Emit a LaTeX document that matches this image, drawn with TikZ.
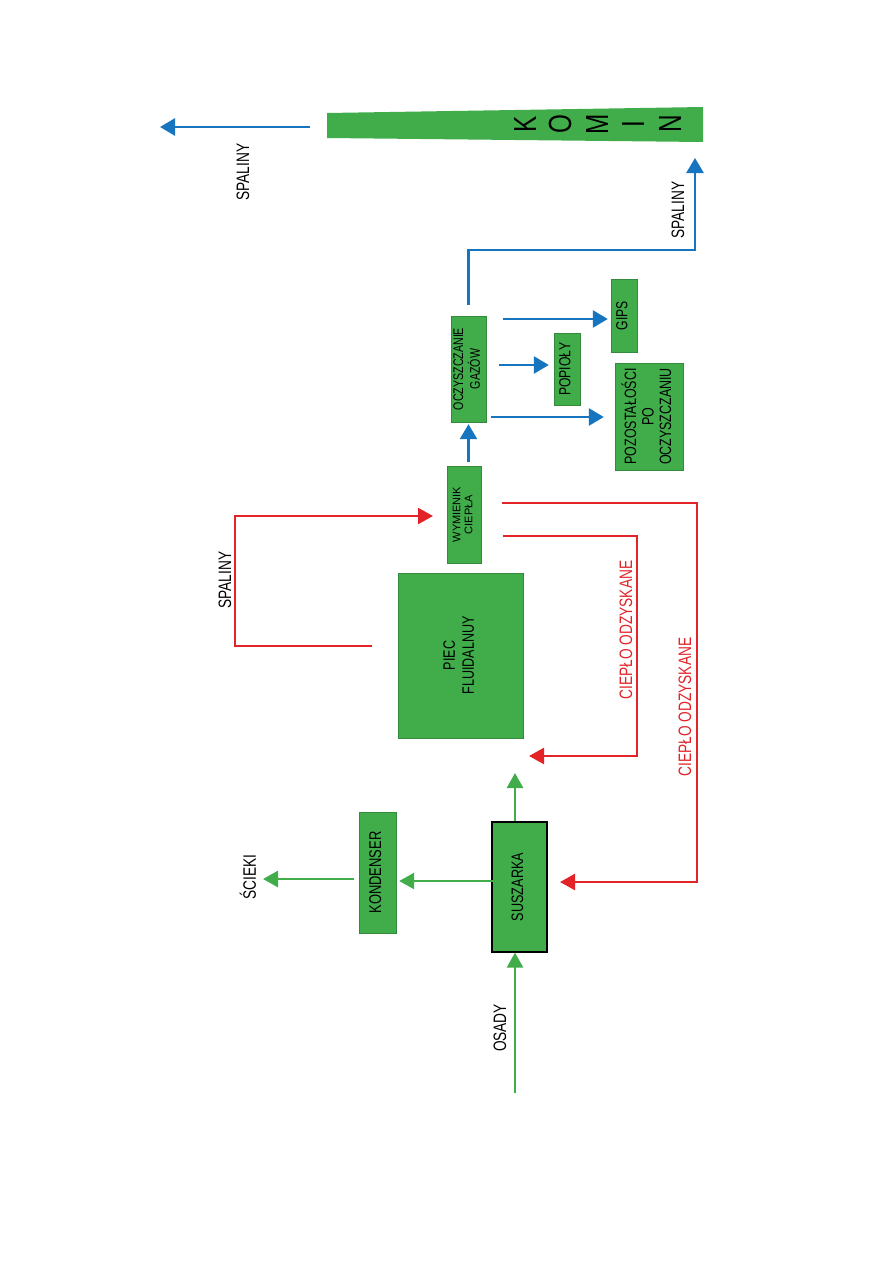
\documentclass[tikz,border=0pt]{standalone}
\usepackage{fontspec}
\setmainfont{Liberation Sans}
\newfontfamily\nar[FakeStretch=0.76]{Liberation Sans}
\usetikzlibrary{arrows.meta,calc}
\definecolor{gr}{RGB}{64,173,74}
\definecolor{bl}{RGB}{22,117,190}
\definecolor{rd}{RGB}{226,35,40}
\newcommand{\rt}[2]{\rotatebox{90}{#1\begin{tabular}{@{}c@{}}#2\end{tabular}}}
\newcommand{\fs}[2]{\fontsize{#1}{#2}\selectfont}
\begin{document}
\begin{tikzpicture}[x=1pt,y=-1pt,
  box/.style={draw=gr!80!black, line width=0.4pt, fill=gr, inner sep=0pt, anchor=center, text=black},
  barrow/.style={draw=bl, line width=2.6pt, -{Triangle[length=15pt,width=17pt]}},
  rarrow/.style={draw=rd, line width=2.4pt, -{Triangle[length=15pt,width=16pt]}},
  garrow/.style={draw=gr, line width=2.6pt, -{Triangle[length=15pt,width=16pt]}},
  lbl/.style={rotate=90, inner sep=0pt, font=\nar\fs{18}{20}},
  kl/.style={rotate=90, inner sep=0pt, font=\nar\fs{32}{34}}]
\useasboundingbox (0,0) rectangle (893,1263);
\fill[white] (0,0) rectangle (893,1263);

% KOMIN
\coordinate (k1) at (327,113);
\coordinate (k2) at (703,107);
\coordinate (k3) at (703,142);
\coordinate (k4) at (327,138);
\fill[gr] (k1) -- (k2) -- (k3) -- (k4) -- cycle;
\coordinate (kominL) at (327,127);
\node[kl] (kK) at (525,124) {K};
\node[kl] (kO) at (560,124) {O};
\node[kl] (kM) at (597,124) {M};
\node[kl] (kI) at (633,124) {I};
\node[kl] (kN) at (670,124) {N};

% boxes
\node[box, minimum width=35pt, minimum height=106pt] (ocz) at (468.5,369) {\rt{\nar\fs{14}{15}}{OCZYSZCZANIE\\GAZÓW}};
\node[box, minimum width=26pt, minimum height=73pt] (gips) at (624,315.5) {\rt{\nar\fs{16}{17}}{GIPS}};
\node[box, minimum width=26pt, minimum height=72pt] (popioly) at (567,369) {\rt{\nar\fs{16}{17}}{POPIOŁY}};
\node[box, minimum width=68pt, minimum height=107pt] (pozost) at (649,416.5) {\rt{\nar\fs{16.4}{17.5}}{POZOSTAŁOŚCI\\PO\\OCZYSZCZANIU}};
\node[box, minimum width=34pt, minimum height=97pt] (wym) at (464,514.5) {\rt{\fs{11}{12}}{WYMIENIK\\CIEPŁA}};
\node[box, minimum width=125pt, minimum height=165pt] (piec) at (460.5,655.5) {\rt{\nar\fs{16.5}{19}}{PIEC\\FLUIDALNUY}};
\node[box, minimum width=37pt, minimum height=121pt] (kond) at (377.5,872.5) {\rt{\nar\fs{17}{18}}{KONDENSER}};
\node[box, draw=black, line width=1.2pt, minimum width=55pt, minimum height=130pt] (susz) at (519.5,887) {\rt{\nar\fs{16.6}{18}}{SUSZARKA}};

% blue connectors
\draw[barrow, shorten <=4pt, shorten >=2pt] (wym.north -| ocz.south) -- (ocz.south);
\coordinate (yg) at (0,319);
\draw[barrow, shorten <=17pt, shorten >=3pt] (ocz.east |- yg) -- (gips.west |- yg);
\coordinate (yp) at (0,365);
\draw[barrow, shorten <=13pt, shorten >=5pt] (ocz.east |- yp) -- (popioly.west |- yp);
\coordinate (yz) at (0,417);
\draw[barrow, shorten <=5pt, shorten >=11pt] (ocz.east |- yz) -- (pozost.west |- yz);
\coordinate (b1) at (468.5,250);
\coordinate (ktip) at (695,158);
\draw[barrow, shorten <=11pt] (ocz.north) -- (b1) -| (ktip);
\coordinate (sp1) at (160,127);
\draw[barrow, shorten <=17pt] (kominL) -- (sp1);

% red connectors
\coordinate (pout) at (372,646);
\coordinate (r1) at (235,646);
\coordinate (wyin) at (447,516);
\draw[rarrow, shorten >=14pt] (pout) -- (r1) |- (wyin);
\coordinate (r2) at (637,536);
\coordinate (r2e) at (529,756);
\draw[rarrow, shorten <=22pt] (wym.east |- r2) -- (r2) |- (r2e);
\coordinate (r3) at (697,503);
\coordinate (r3e) at (547,882);
\draw[rarrow, shorten <=21pt, shorten >=13pt] (wym.east |- r3) -- (r3) |- (r3e);

% green connectors
\coordinate (os) at (515,1093);
\draw[garrow] (os) -- (os |- susz.south);
\coordinate (yk) at (0,881);
\draw[garrow, shorten <=-3pt, shorten >=3pt] (susz.west |- yk) -- (kond.east |- yk);
\coordinate (sc) at (263,879);
\draw[garrow, shorten <=5pt] (kond.west |- sc) -- (sc);
\coordinate (up) at (515,773);
\draw[garrow] (up |- susz.north) -- (up);

% labels
\node[lbl] (l1) at (243,172) {SPALINY};
\node[lbl] (l2) at (678,210) {SPALINY};
\node[lbl] (l3) at (225,580) {SPALINY};
\node[lbl, text=rd] (l4) at (626,630) {CIEPŁO ODZYSKANE};
\node[lbl, text=rd] (l5) at (685,707) {CIEPŁO ODZYSKANE};
\node[lbl] (l6) at (248,877) {ŚCIEKI};
\node[lbl] (l7) at (500,1028) {OSADY};
\end{tikzpicture}
\end{document}
